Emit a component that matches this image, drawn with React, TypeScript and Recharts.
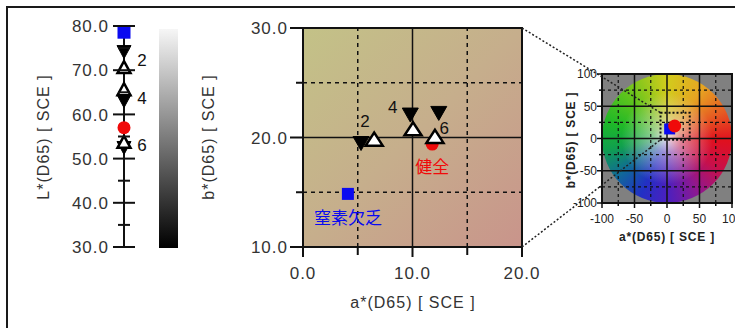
import { ScatterChart, Scatter, XAxis, YAxis, ReferenceLine, ReferenceArea } from "recharts"

// week numbers of the samples
const weeks = ["2", "4", "6"]

// filled down triangles
const downA = [5.3, 9.8, 12.4]
const downB = [19.45, 22.05, 22.2]
const downL = [74.1, 63.0, 52.4]

// open up triangles
const upA = [6.5, 10.05, 12.05]
const upB = [19.85, 20.8, 20.1]
const upL = [70.7, 65.7, 53.8]

// reference leaves: healthy (red) and nitrogen deficient (blue)
const refNames = ["健全", "窒素欠乏"]
const refA = [11.8, 4.1]
const refB = [19.4, 14.85]
const refL = [57.0, 78.6]

// where the week numbers are written
const weekLabelA = [5.66, 8.2, 12.9]
const weekLabelB = [21.5, 22.8, 20.9]
const weekLabelL = [72.3, 63.7, 53.1]

const lTicks = [30, 35, 40, 45, 50, 55, 60, 65, 70, 75, 80]
const aTicks = [0, 5, 10, 15, 20]
const bTicks = [10, 15, 20, 25, 30]
const wheelTicks = [-100, -75, -50, -25, 0, 25, 50, 75, 100]
// the dotted box drawn on the colour wheel
const zoomBoxA = [-10, 35]
const zoomBoxB = [-2, 40]

const downMain = downA.map((a, i) => ({ x: a, y: downB[i] }))
const upMain = upA.map((a, i) => ({ x: a, y: upB[i] }))
const healthyMain = [{ x: refA[0], y: refB[0], name: refNames[0] }]
const deficientMain = [{ x: refA[1], y: refB[1], name: refNames[1] }]
const weekMain = weeks.map((w, i) => ({ x: weekLabelA[i], y: weekLabelB[i], name: w }))

const downLData = downL.map((l) => ({ x: 0, y: l }))
const upLData = upL.map((l) => ({ x: 0, y: l }))
const healthyLData = [{ x: 0, y: refL[0] }]
const deficientLData = [{ x: 0, y: refL[1] }]
const weekLData = weeks.map((w, i) => ({ x: 0, y: weekLabelL[i], name: w }))

const healthyWheel = [{ x: refA[0], y: refB[0] }]
const deficientWheel = [{ x: refA[1], y: refB[1] }]

const FONT = "'Liberation Sans', Arial, sans-serif"
const JP = "'Noto Sans CJK JP', sans-serif"
const TEXT = "#333"

// layout
const MAIN = { left: 303, top: 28, size: 219 }
const WHEEL = { left: 602, top: 74, w: 130, h: 129 }

const downTri = (w: number, h: number) => (p: any) => (
  <polygon
    points={`${p.cx - w / 2},${p.cy - h / 2} ${p.cx + w / 2},${p.cy - h / 2} ${p.cx},${p.cy + h / 2}`}
    fill="#000"
    stroke="#000"
    strokeWidth={1}
  />
)

const upTri = (w: number, h: number) => (p: any) => (
  <polygon
    points={`${p.cx - w / 2},${p.cy + h / 2} ${p.cx + w / 2},${p.cy + h / 2} ${p.cx},${p.cy - h / 2}`}
    fill="#fff"
    stroke="#000"
    strokeWidth={2.5}
    strokeLinejoin="miter"
  />
)

const dot = (r: number, color: string, label?: boolean) => (p: any) => (
  <g>
    <circle cx={p.cx} cy={p.cy} r={r} fill={color} />
    {label && (
      <text x={p.cx} y={p.cy + 23} dy="0.35em" textAnchor="middle" fontSize={17} fill={color} fontFamily={JP}>
        {p.payload.name}
      </text>
    )}
  </g>
)

const square = (s: number, color: string, label?: boolean) => (p: any) => (
  <g>
    <rect x={p.cx - s / 2} y={p.cy - s / 2} width={s} height={s} fill={color} />
    {label && (
      <text x={p.cx} y={p.cy + 24} dy="0.35em" textAnchor="middle" fontSize={17} fill={color} fontFamily={JP}>
        {p.payload.name}
      </text>
    )}
  </g>
)

const weekText = (dx: number) => (p: any) => (
  <text x={p.cx + dx} y={p.cy} dy="0.35em" textAnchor="middle" fontSize={17} fill="#111" fontFamily={FONT}>
    {p.payload.name}
  </text>
)

const LTick = (p: any) => {
  const v = p.payload.value
  const major = v % 10 === 0
  const len = major ? 11 : 6
  return (
    <g>
      <line x1={p.x - len} x2={p.x + len} y1={p.y} y2={p.y} stroke="#111" strokeWidth={2} />
      {major && (
        <text x={p.x - 15} y={p.y} dy="0.36em" textAnchor="end" fontSize={17} letterSpacing={1} fill={TEXT} fontFamily={FONT}>
          {v.toFixed(1)}
        </text>
      )}
    </g>
  )
}

const MainYTick = (p: any) => {
  const v = p.payload.value
  const major = v % 10 === 0
  return (
    <g>
      <line x1={p.x - (major ? 13 : 7)} x2={p.x} y1={p.y} y2={p.y} stroke="#111" strokeWidth={2} />
      {major && (
        <text x={p.x - 15} y={p.y} dy="0.36em" textAnchor="end" fontSize={17} letterSpacing={1} fill={TEXT} fontFamily={FONT}>
          {v.toFixed(1)}
        </text>
      )}
    </g>
  )
}

const MainXTick = (p: any) => {
  const v = p.payload.value
  const major = v % 10 === 0
  return (
    <g>
      <line x1={p.x} x2={p.x} y1={p.y} y2={p.y + (major ? 10 : 8)} stroke="#111" strokeWidth={2} />
      {major && (
        <text x={p.x} y={p.y + 26} dy="0.36em" textAnchor="middle" fontSize={17} letterSpacing={1} fill={TEXT} fontFamily={FONT}>
          {v.toFixed(1)}
        </text>
      )}
    </g>
  )
}

const WheelXTick = (p: any) => {
  const v = p.payload.value
  const major = v % 50 === 0
  return (
    <g>
      <line x1={p.x} x2={p.x} y1={p.y} y2={p.y + (major ? 5 : 3)} stroke="#111" strokeWidth={1.5} />
      {major && (
        <text x={p.x} y={p.y + 16} dy="0.36em" textAnchor="middle" fontSize={12} fill="#222" fontFamily={FONT}>
          {v}
        </text>
      )}
    </g>
  )
}

const WheelYTick = (p: any) => {
  const v = p.payload.value
  const major = v % 50 === 0
  return (
    <g>
      <line x1={p.x - (major ? 5 : 3)} x2={p.x} y1={p.y} y2={p.y} stroke="#111" strokeWidth={1.5} />
      {major && (
        <text x={p.x - 5} y={p.y} dy="0.36em" textAnchor="end" fontSize={12} fill="#222" fontFamily={FONT}>
          {v}
        </text>
      )}
    </g>
  )
}

const wheelX = (a: number) => WHEEL.left + ((a + 100) / 200) * WHEEL.w
const wheelY = (b: number) => WHEEL.top + WHEEL.h - ((b + 100) / 200) * WHEEL.h

export default function App() {
  return (
    <div
      style={{
        position: "absolute",
        left: 0,
        top: 0,
        width: 735,
        height: 328,
        overflow: "hidden",
        background: "#fff",
        fontFamily: FONT,
      }}
    >
      <div
        style={{
          position: "absolute",
          left: 6,
          top: 6,
          width: 760,
          height: 360,
          border: "2px solid #1a1a1a",
        }}
      />

      {/* L* axis */}
      <div style={{ position: "absolute", left: 0, top: 0 }}>
        <ScatterChart width={160} height={328} margin={{ top: 26, right: 16, bottom: 81, left: 0 }}>
          <XAxis type="number" dataKey="x" domain={[0, 1]} hide />
          <YAxis
            type="number"
            dataKey="y"
            domain={[30, 80]}
            ticks={lTicks}
            interval={0}
            width={124}
            tickSize={0}
            tickMargin={0}
            tickLine={false}
            axisLine={{ stroke: "#111", strokeWidth: 2 }}
            tick={LTick}
          />
          <Scatter data={deficientLData} shape={square(13, "#0a0af0")} isAnimationActive={false} />
          <Scatter data={downLData} shape={downTri(14, 13)} isAnimationActive={false} />
          <Scatter data={upLData} shape={upTri(13, 12)} isAnimationActive={false} />
          <Scatter data={healthyLData} shape={dot(6.5, "#f00a0a")} isAnimationActive={false} />
          <Scatter data={weekLData} shape={weekText(18)} isAnimationActive={false} />
        </ScatterChart>
      </div>

      {/* a*-b* plane */}
      <div style={{ position: "absolute", left: 220, top: 0 }}>
        <ScatterChart width={320} height={328} margin={{ top: 28, right: 18, bottom: 51, left: 0 }}>
          <defs>
            <linearGradient id="mainBg" x1="0" y1="0" x2="1" y2="1">
              <stop offset="0%" stopColor="#c3c287" />
              <stop offset="50%" stopColor="#c6ae8c" />
              <stop offset="100%" stopColor="#c9948b" />
            </linearGradient>
          </defs>
          <XAxis
            type="number"
            dataKey="x"
            domain={[0, 20]}
            ticks={aTicks}
            interval={0}
            height={30}
            tickSize={0}
            tickMargin={0}
            tickLine={false}
            axisLine={{ stroke: "#111", strokeWidth: 2 }}
            tick={MainXTick}
          />
          <YAxis
            type="number"
            dataKey="y"
            domain={[10, 30]}
            ticks={bTicks}
            interval={0}
            width={83}
            tickSize={0}
            tickMargin={0}
            tickLine={false}
            axisLine={{ stroke: "#111", strokeWidth: 2 }}
            tick={MainYTick}
          />
          <ReferenceArea x1={0} x2={20} y1={10} y2={30} fill="url(#mainBg)" fillOpacity={1} stroke="#111" strokeWidth={2} />
          <ReferenceLine x={5} stroke="#111" strokeWidth={1.5} strokeDasharray="4 4" />
          <ReferenceLine x={15} stroke="#111" strokeWidth={1.5} strokeDasharray="4 4" />
          <ReferenceLine y={15} stroke="#111" strokeWidth={1.5} strokeDasharray="4 4" />
          <ReferenceLine y={25} stroke="#111" strokeWidth={1.5} strokeDasharray="4 4" />
          <ReferenceLine x={10} stroke="#111" strokeWidth={1.5} />
          <ReferenceLine y={20} stroke="#111" strokeWidth={1.5} />
          <Scatter data={deficientMain} shape={square(12, "#0a0af0", true)} isAnimationActive={false} />
          <Scatter data={healthyMain} shape={dot(6.5, "#f00a0a", true)} isAnimationActive={false} />
          <Scatter data={downMain} shape={downTri(16, 14)} isAnimationActive={false} />
          <Scatter data={upMain} shape={upTri(17, 13)} isAnimationActive={false} />
          <Scatter data={weekMain} shape={weekText(0)} isAnimationActive={false} />
        </ScatterChart>
      </div>

      {/* colour wheel backdrop */}
      <div
        style={{
          position: "absolute",
          left: WHEEL.left,
          top: WHEEL.top,
          width: WHEEL.w,
          height: WHEEL.h,
          background: "#808080",
        }}
      />
      <div
        style={{
          position: "absolute",
          left: WHEEL.left,
          top: WHEEL.top,
          width: WHEEL.w,
          height: WHEEL.h,
          borderRadius: "50%",
          background:
            "radial-gradient(circle, rgba(236,228,234,0.95) 0%, rgba(232,224,232,0.55) 16%, rgba(255,255,255,0) 50%), conic-gradient(from 0deg, #d2cc1c 0deg, #e6a422 35deg, #e65a22 65deg, #e0101e 92deg, #c8104a 120deg, #8e1890 150deg, #4a20c0 180deg, #2230c4 205deg, #10689a 232deg, #10a04e 260deg, #1eb828 285deg, #60c41c 318deg, #d2cc1c 360deg)",
        }}
      />

      {/* small overview chart */}
      <div style={{ position: "absolute", left: 560, top: 40 }}>
        <ScatterChart width={200} height={230} margin={{ top: 34, right: 28, bottom: 27, left: 0 }}>
          <XAxis
            type="number"
            dataKey="x"
            domain={[-100, 100]}
            ticks={wheelTicks}
            interval={0}
            height={40}
            tickSize={0}
            tickMargin={0}
            tickLine={false}
            axisLine={{ stroke: "#111", strokeWidth: 2 }}
            tick={WheelXTick}
          />
          <YAxis
            type="number"
            dataKey="y"
            domain={[-100, 100]}
            ticks={wheelTicks}
            interval={0}
            width={42}
            tickSize={0}
            tickMargin={0}
            tickLine={false}
            axisLine={{ stroke: "#111", strokeWidth: 2 }}
            tick={WheelYTick}
          />
          {[-75, -25, 25, 75].map((v) => (
            <ReferenceLine key={`dx${v}`} x={v} stroke="#111" strokeWidth={1.2} strokeDasharray="3 3" />
          ))}
          {[-75, -25, 25, 75].map((v) => (
            <ReferenceLine key={`dy${v}`} y={v} stroke="#111" strokeWidth={1.2} strokeDasharray="3 3" />
          ))}
          {[-50, 0, 50].map((v) => (
            <ReferenceLine key={`sx${v}`} x={v} stroke="#111" strokeWidth={1.5} />
          ))}
          {[-50, 0, 50].map((v) => (
            <ReferenceLine key={`sy${v}`} y={v} stroke="#111" strokeWidth={1.5} />
          ))}
          <ReferenceArea x1={-100} x2={100} y1={-100} y2={100} fill="none" stroke="#111" strokeWidth={2} />
          <ReferenceArea
            x1={zoomBoxA[0]}
            x2={zoomBoxA[1]}
            y1={zoomBoxB[0]}
            y2={zoomBoxB[1]}
            fill="none"
            stroke="#111"
            strokeWidth={2}
            strokeDasharray="2 2"
          />
          <Scatter data={deficientWheel} shape={square(11, "#0a0af0")} isAnimationActive={false} />
          <Scatter data={healthyWheel} shape={dot(6.5, "#f00a0a")} isAnimationActive={false} />
        </ScatterChart>
      </div>

      {/* titles, colour bar and zoom connectors */}
      <svg width={735} height={328} style={{ position: "absolute", left: 0, top: 0, pointerEvents: "none" }}>
        <defs>
          <linearGradient id="grayBar" x1="0" y1="0" x2="0" y2="1">
            <stop offset="0%" stopColor="#f6f6f6" />
            <stop offset="100%" stopColor="#000" />
          </linearGradient>
        </defs>
        <rect x={159} y={29} width={19} height={219} fill="url(#grayBar)" />
        <text x={43} y={137} dy="0.35em" textAnchor="middle" fontSize={16} letterSpacing={1} fill={TEXT} transform="rotate(-90 43 137)">
          L*(D65) [ SCE ]
        </text>
        <text x={208} y={137} dy="0.35em" textAnchor="middle" fontSize={16} letterSpacing={1} fill={TEXT} transform="rotate(-90 208 137)">
          b*(D65) [ SCE ]
        </text>
        <text x={413} y={302} dy="0.35em" textAnchor="middle" fontSize={16} letterSpacing={1} fill={TEXT}>
          a*(D65) [ SCE ]
        </text>
        <text x={667} y={237} dy="0.35em" textAnchor="middle" fontSize={12} fontWeight="bold" letterSpacing={0.8} fill="#222">
          a*(D65) [ SCE ]
        </text>
        <text x={571} y={140} dy="0.35em" textAnchor="middle" fontSize={12} fontWeight="bold" letterSpacing={0.8} fill="#222" transform="rotate(-90 571 140)">
          b*(D65) [ SCE ]
        </text>
        <line
          x1={MAIN.left + MAIN.size}
          y1={MAIN.top}
          x2={wheelX(zoomBoxA[0])}
          y2={wheelY(zoomBoxB[1])}
          stroke="#222"
          strokeWidth={1.5}
          strokeDasharray="2 2"
        />
        <line
          x1={MAIN.left + MAIN.size}
          y1={MAIN.top + MAIN.size}
          x2={wheelX(zoomBoxA[0])}
          y2={wheelY(zoomBoxB[0])}
          stroke="#222"
          strokeWidth={1.5}
          strokeDasharray="2 2"
        />
      </svg>
    </div>
  )
}
